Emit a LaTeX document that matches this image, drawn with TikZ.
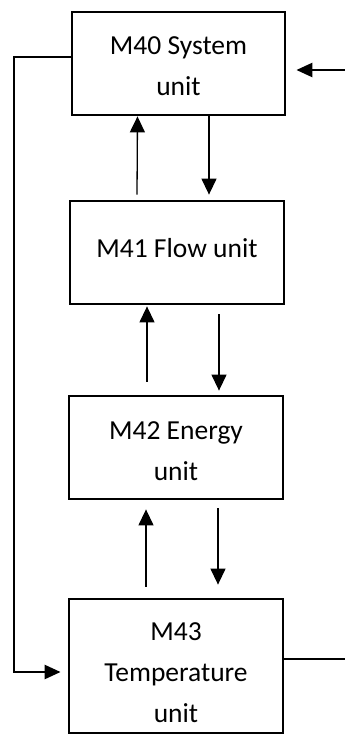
\documentclass[tikz,border=0pt]{standalone}
\usepackage{fontspec}
\setmainfont{Carlito}
\usetikzlibrary{arrows.meta}
\begin{document}
\begin{tikzpicture}[x=1pt,y=1pt,
  box/.style={draw, line width=2.8pt, minimum width=214pt, minimum height=103pt, inner sep=0pt},
  lbl/.style={inner sep=0pt, align=center, font=\fontsize{27.5}{41}\selectfont},
  thinarrow/.style={line width=1.3pt, -{Triangle[width=15pt,length=16pt]}},
  thickline/.style={line width=2.5pt},
  thickarrow/.style={line width=2.5pt, -{Triangle[width=14pt,length=16pt]}}]
\useasboundingbox (0,0) rectangle (345,-736);
\node[box, minimum width=213pt] (m40) at (178.5,-63.5) {};
\node[lbl] (t40) at ([yshift=-3pt]m40.center) {M40 System\\unit};
\node[box] (m41) at (177,-252.5) {};
\node[lbl] (t41) at ([yshift=4pt]m41.center) {M41 Flow unit};
\node[box] (m42) at (176,-447.5) {};
\node[lbl] (t42) at ([yshift=-4pt]m42.center) {M42 Energy\\unit};
\node[box, minimum height=134pt] (m43) at (176,-666) {};
\node[lbl] (t43) at ([yshift=-7pt]m43.center) {M43\\Temperature\\unit};
\draw[thinarrow] ([xshift=-40pt,yshift=5pt]m41.north) -- ([xshift=-41pt]m40.south);
\draw[thinarrow] ([xshift=30.5pt]m40.south) -- ([xshift=32pt,yshift=5pt]m41.north);
\draw[thinarrow] ([xshift=-29pt,yshift=13pt]m42.north) -- ([xshift=-30pt,yshift=-1pt]m41.south);
\draw[thinarrow] ([xshift=42pt,yshift=-9pt]m41.south) -- ([xshift=43pt,yshift=4pt]m42.north);
\draw[thinarrow] ([xshift=-30pt,yshift=11pt]m43.north) -- ([xshift=-30pt,yshift=-9pt]m42.south);
\draw[thinarrow] ([xshift=42pt,yshift=-8pt]m42.south) -- ([xshift=42pt,yshift=13pt]m43.north);
\coordinate (lx) at (14,-300);
\draw[thickarrow] ([yshift=6.5pt]m40.west) -| (lx) |- ([xshift=-7pt,yshift=-6pt]m43.west);
\coordinate (rin) at (345,-70);
\draw[thickarrow] (rin) -- ([xshift=10pt,yshift=-6.5pt]m40.east);
\coordinate (rout) at (345,-659);
\draw[thickline] ([yshift=7pt]m43.east) -- (rout);
\end{tikzpicture}
\end{document}
